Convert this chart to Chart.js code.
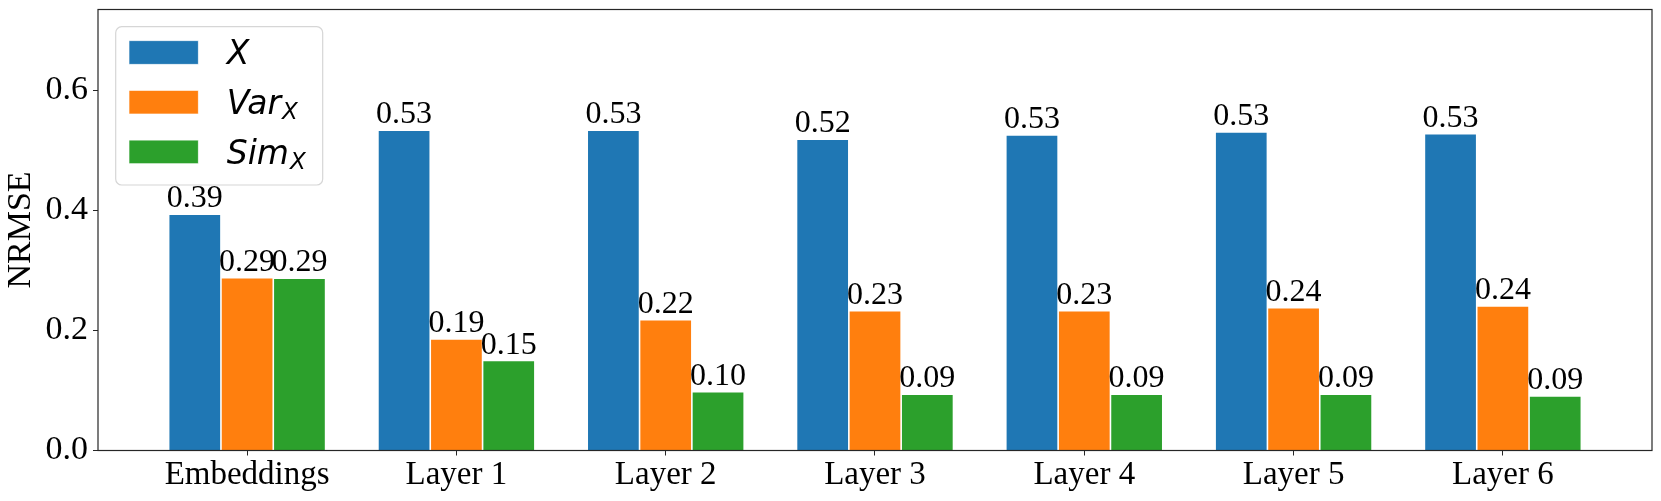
<!DOCTYPE html>
<html>
<head>
<meta charset="utf-8">
<script src="https://cdn.jsdelivr.net/npm/chart.js@4.4.1/dist/chart.umd.min.js"></script>
<style>
  html, body { margin: 0; padding: 0; background: #ffffff; }
  #wrap { width: 1661px; height: 501px; position: relative; }
</style>
</head>
<body>
<div id="wrap"><canvas id="c" width="1661" height="501"></canvas></div>
<script>
// ---- data ----
const categories = ['Embeddings', 'Layer 1', 'Layer 2', 'Layer 3', 'Layer 4', 'Layer 5', 'Layer 6'];
const valuesX   = [0.394, 0.534, 0.534, 0.519, 0.526, 0.531, 0.528];
const valuesVar = [0.288, 0.186, 0.218, 0.233, 0.233, 0.238, 0.241];
const valuesSim = [0.287, 0.150, 0.098, 0.094, 0.094, 0.094, 0.091];
const seriesNames = ['X', 'Var', 'Sim'];
const seriesSubs  = ['', 'X', 'X'];
const seriesColors = ['#1f77b4', '#ff7f0e', '#2ca02c'];
const yTickValues = [0.0, 0.2, 0.4, 0.6];
const yTitle = 'NRMSE';

const SERIF = '"Liberation Serif", "Times New Roman", serif';

function toPoints(vals) { return vals.map((v, i) => ({ x: i, y: v })); }
const allSeries = [valuesX, valuesVar, valuesSim];

const datasets = allSeries.map((vals, k) => ({
  label: seriesNames[k] + seriesSubs[k],
  data: toPoints(vals),
  backgroundColor: seriesColors[k],
  borderColor: 'rgba(255,255,255,0.85)',
  borderWidth: 0.8,
  borderSkipped: 'bottom',
  categoryPercentage: 0.75,
  barPercentage: 1.0
}));

// frame + value labels + legend
const overlayPlugin = {
  id: 'overlay',
  afterDatasetsDraw(chart) {
    const ctx = chart.ctx;
    const a = chart.chartArea;
    ctx.save();
    ctx.font = '32px ' + SERIF;
    ctx.fillStyle = '#000';
    ctx.textAlign = 'center';
    ctx.textBaseline = 'alphabetic';
    chart.data.datasets.forEach((ds, di) => {
      const meta = chart.getDatasetMeta(di);
      meta.data.forEach((el, i) => {
        const v = ds.data[i].y;
        ctx.fillText(v.toFixed(2), el.x, el.y - 7);
      });
    });
    ctx.strokeStyle = '#262626';
    ctx.lineWidth = 1.2;
    ctx.strokeRect(a.left, a.top, a.right - a.left, a.bottom - a.top);
    ctx.restore();
  },
  afterDraw(chart) {
    const ctx = chart.ctx;
    const a = chart.chartArea;
    const bx = a.left + 17.7, by = a.top + 17.2, bw = 207, bh = 158.3, r = 6;
    ctx.save();
    ctx.beginPath();
    ctx.moveTo(bx + r, by);
    ctx.arcTo(bx + bw, by, bx + bw, by + bh, r);
    ctx.arcTo(bx + bw, by + bh, bx, by + bh, r);
    ctx.arcTo(bx, by + bh, bx, by, r);
    ctx.arcTo(bx, by, bx + bw, by, r);
    ctx.closePath();
    ctx.fillStyle = 'rgba(255,255,255,0.8)';
    ctx.fill();
    ctx.strokeStyle = '#d6d6d6';
    ctx.lineWidth = 1.2;
    ctx.stroke();
    for (let k = 0; k < seriesNames.length; k++) {
      const rowTop = by + 14 + k * 49.7;
      ctx.fillStyle = seriesColors[k];
      ctx.fillRect(bx + 13.3, rowTop, 69.3, 23.6);
      ctx.strokeStyle = 'rgba(255,255,255,0.8)';
      ctx.lineWidth = 0.8;
      ctx.strokeRect(bx + 13.3, rowTop, 69.3, 23.6);
      const base = rowTop + 23.6;
      ctx.fillStyle = '#000';
      ctx.textAlign = 'left';
      ctx.textBaseline = 'alphabetic';
      ctx.font = 'italic 33px "DejaVu Sans", sans-serif';
      const tx = bx + 111;
      ctx.fillText(seriesNames[k], tx, base);
      if (seriesSubs[k]) {
        const w = ctx.measureText(seriesNames[k]).width;
        ctx.font = 'italic 23px "DejaVu Sans", sans-serif';
        ctx.fillText(seriesSubs[k], tx + w + 1, base + 5);
      }
    }
    ctx.restore();
  }
};

new Chart(document.getElementById('c'), {
  type: 'bar',
  data: { datasets },
  plugins: [overlayPlugin],
  options: {
    responsive: false,
    animation: false,
    devicePixelRatio: 1,
    layout: { padding: { top: 9.5, right: 9, left: 0, bottom: 0 } },
    plugins: {
      legend: { display: false },
      tooltip: { enabled: false }
    },
    scales: {
      x: {
        type: 'linear',
        min: -0.7125,
        max: 6.7125,
        offset: false,
        afterBuildTicks(scale) { scale.ticks = categories.map((_, i) => ({ value: i })); },
        afterFit(scale) { scale.height = 50.5; scale.paddingLeft = 0; scale.paddingRight = 0; },
        ticks: {
          autoSkip: false,
          maxRotation: 0,
          padding: 0,
          color: '#000',
          font: { family: SERIF, size: 33 },
          callback: (v) => categories[v] !== undefined ? categories[v] : ''
        },
        grid: { display: true, offset: false, drawOnChartArea: false, drawTicks: true, tickLength: 5, color: '#262626', lineWidth: 1 },
        border: { display: false }
      },
      y: {
        type: 'linear',
        min: 0,
        max: 0.735,
        afterBuildTicks(scale) { scale.ticks = yTickValues.map(v => ({ value: v })); },
        afterFit(scale) { scale.width = 98; scale.paddingTop = 0; scale.paddingBottom = 0; },
        ticks: {
          padding: 5,
          color: '#000',
          font: { family: SERIF, size: 34 },
          callback: (v) => Number(v).toFixed(1)
        },
        title: {
          display: true,
          text: yTitle,
          color: '#000',
          font: { family: SERIF, size: 34 },
          padding: { top: 1, bottom: 0 }
        },
        grid: { display: true, offset: false, drawOnChartArea: false, drawTicks: true, tickLength: 5, color: '#262626', lineWidth: 1 },
        border: { display: false }
      }
    }
  }
});
</script>
</body>
</html>
